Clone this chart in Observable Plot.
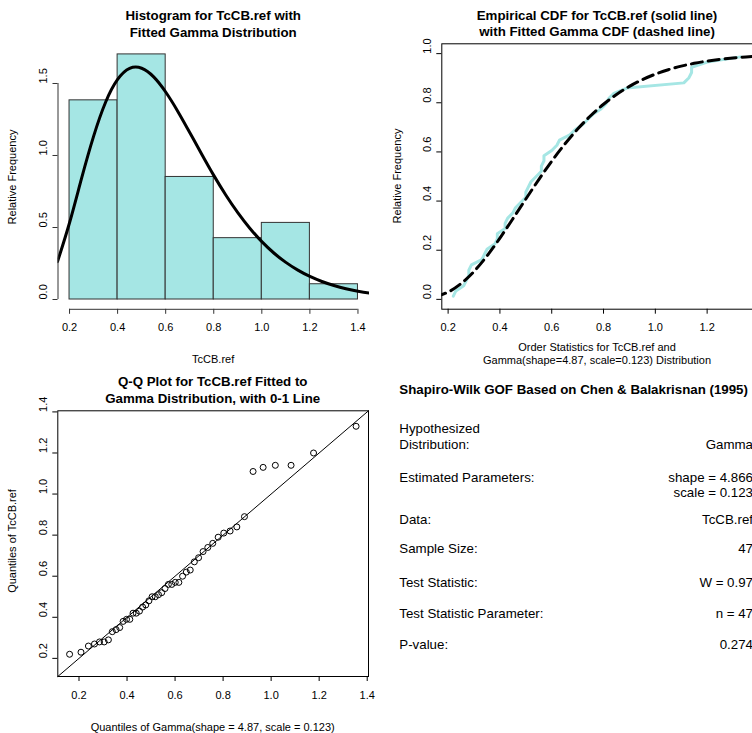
<!DOCTYPE html>
<html><head><meta charset="utf-8">
<script src="https://cdn.jsdelivr.net/npm/d3@7"></script>
<script src="https://cdn.jsdelivr.net/npm/@observablehq/plot@0.6"></script>
<style>
body{margin:0;background:#fff;}
#root{position:relative;width:752px;height:733px;overflow:hidden;background:#fff;font-family:"Liberation Sans",Arial,Helvetica,sans-serif;color:#000;}
.panel{position:absolute;}
.t{position:absolute;white-space:nowrap;line-height:1;}
</style></head>
<body><div id="root"></div>
<script>
// ---------- data ----------
const tccbRef = [0.22,0.23,0.26,0.27,0.28,0.28,0.29,0.33,0.34,0.35,0.38,0.39,0.39,0.42,0.42,0.43,0.45,0.46,0.48,0.50,0.50,0.51,0.52,0.54,0.56,0.56,0.57,0.57,0.60,0.62,0.63,0.67,0.69,0.72,0.74,0.76,0.79,0.81,0.82,0.84,0.89,1.11,1.13,1.14,1.14,1.20,1.33];
const plotPos = [0.0132,0.0344,0.0556,0.0767,0.0979,0.1190,0.1402,0.1614,0.1825,0.2037,0.2249,0.2460,0.2672,0.2884,0.3095,0.3307,0.3519,0.3730,0.3942,0.4153,0.4365,0.4577,0.4788,0.5000,0.5212,0.5423,0.5635,0.5847,0.6058,0.6270,0.6481,0.6693,0.6905,0.7116,0.7328,0.7540,0.7751,0.7963,0.8175,0.8386,0.8598,0.8810,0.9021,0.9233,0.9444,0.9656,0.9868];
const gammaQuantiles = [0.1608,0.2083,0.2392,0.2644,0.2854,0.3048,0.3224,0.3387,0.3544,0.3694,0.3836,0.3979,0.4116,0.4250,0.4384,0.4517,0.4648,0.4780,0.4911,0.5043,0.5175,0.5310,0.5444,0.5581,0.5721,0.5863,0.6008,0.6158,0.6312,0.6468,0.6631,0.6803,0.6979,0.7166,0.7362,0.7569,0.7794,0.8028,0.8292,0.8571,0.8889,0.9248,0.9667,1.0174,1.0830,1.1766,1.3537];

const binLo = [0.2,0.4,0.6,0.8,1.0,1.2];
const binHi = [0.4,0.6,0.8,1.0,1.2,1.4];
const binDensity = [1.383,1.702,0.851,0.426,0.532,0.106];

const gridX = [0.15,0.20,0.25,0.30,0.35,0.40,0.45,0.50,0.55,0.60,0.65,0.70,0.75,0.80,0.85,0.90,0.95,1.00,1.05,1.10,1.15,1.20,1.25,1.30,1.35,1.40,1.45,1.50];
const gammaPdf = [0.263,0.533,0.841,1.133,1.370,1.528,1.605,1.606,1.546,1.441,1.308,1.160,1.009,0.862,0.726,0.603,0.495,0.402,0.323,0.258,0.204,0.160,0.125,0.097,0.0745,0.0571,0.0436,0.0331];
const gammaCdf = [0.0102,0.0298,0.0642,0.1136,0.1765,0.2493,0.3280,0.4085,0.4875,0.5624,0.6312,0.6929,0.7471,0.7939,0.8335,0.8667,0.8941,0.9165,0.9346,0.9490,0.9605,0.9696,0.9767,0.9822,0.9865,0.9897,0.9922,0.9941];

const histXTicks = [0.2,0.4,0.6,0.8,1.0,1.2,1.4];
const histYTicks = [0.0,0.5,1.0,1.5];
const cdfXTicks = [0.2,0.4,0.6,0.8,1.0,1.2];
const cdfYTicks = [0.0,0.2,0.4,0.6,0.8,1.0];
const qqTicks = [0.2,0.4,0.6,0.8,1.0,1.2,1.4];

const gofLabels = [["Hypothesized","Distribution:"],["Estimated Parameters:"],["Data:"],["Sample Size:"],["Test Statistic:"],["Test Statistic Parameter:"],["P-value:"]];
const gofValues = [["","Gamma"],["shape = 4.866","scale = 0.123"],["TcCB.ref"],["47"],["W = 0.97"],["n = 47"],["0.274"]];

// ---------- helpers ----------
const root = document.getElementById("root");
const fmt = d3.format(".1f");
const CYAN = "#a5e6e4";
const FONT = '"Liberation Sans", Arial, Helvetica, sans-serif';
const baseStyle = {fontFamily: FONT, fontSize: "11px", color: "#000", background: "transparent", maxWidth: "none", overflow: "visible"};

function place(el, left, top) {
  const d = document.createElement("div");
  d.className = "panel"; d.style.left = left + "px"; d.style.top = top + "px";
  d.appendChild(el); root.appendChild(d);
}
function label(text, x, y, {size = 11, bold = false, anchor = "middle", rotate = 0} = {}) {
  const d = document.createElement("div");
  d.className = "t"; d.textContent = text;
  d.style.fontSize = size + "px"; d.style.fontWeight = bold ? "bold" : "normal";
  d.style.left = x + "px"; d.style.top = y + "px";
  const tx = anchor === "middle" ? "-50%" : anchor === "end" ? "-100%" : "0";
  d.style.transform = `translate(${tx},-50%)` + (rotate ? ` rotate(${rotate}deg)` : "");
  root.appendChild(d);
}
function yTickText(ticks) {
  return Plot.text(ticks, {y: d => d, text: d => fmt(d), frameAnchor: "left", dx: -14.5, rotate: -90, fontSize: 11});
}

// ---------- panel 1: histogram ----------
const bins = binLo.map((x1, i) => ({x1, x2: binHi[i], y: binDensity[i]}));
const pdf = gridX.map((x, i) => ({x, y: gammaPdf[i]}));
const p1 = Plot.plot({
  width: 376, height: 370, marginLeft: 57.5, marginRight: 7, marginTop: 44.4, marginBottom: 61.2,
  x: {domain: [0.152, 1.448]}, y: {domain: [-0.068, 1.768]},
  style: baseStyle,
  marks: [
    Plot.rectY(bins, {x1: "x1", x2: "x2", y: "y", fill: CYAN, stroke: "#333", strokeWidth: 1, inset: 0}),
    Plot.line(pdf, {x: "x", y: "y", stroke: "#000", strokeWidth: 3, curve: "natural", clip: true}),
    Plot.ruleX([0.152], {y1: 0, y2: 1.5, stroke: "#333"}),
    Plot.ruleY([-0.068], {x1: 0.2, x2: 1.4, stroke: "#333"}),
    Plot.axisX(histXTicks, {tickSize: 5, tickPadding: 9, tickFormat: fmt, stroke: "#333", label: null}),
    Plot.axisY(histYTicks, {tickSize: 5, tickFormat: () => "", stroke: "#333", label: null}),
    yTickText(histYTicks)
  ]
});
place(p1, 0, 0);
label("Histogram for TcCB.ref with", 213.2, 16, {size: 13.3, bold: true});
label("Fitted Gamma Distribution", 213.2, 32.5, {size: 13.3, bold: true});
label("Relative Frequency", 12.2, 176.6, {rotate: -90});
label("TcCB.ref", 213.2, 359);

// ---------- panel 2: ECDF ----------
const ecdf = tccbRef.map((x, i) => ({x, y: plotPos[i]}));
const cdf = gridX.map((x, i) => ({x, y: gammaCdf[i]}));
const p2 = Plot.plot({
  width: 380, height: 370, marginLeft: 65.3, marginRight: 3, marginTop: 43.3, marginBottom: 61.3,
  x: {domain: [0.1756, 1.379]}, y: {domain: [-0.04, 1.04]},
  style: baseStyle,
  marks: [
    Plot.line(ecdf, {x: "x", y: "y", stroke: CYAN, strokeWidth: 3, clip: true}),
    Plot.line(cdf, {x: "x", y: "y", stroke: "#000", strokeWidth: 3, strokeDasharray: "11,6", curve: "natural", clip: true}),
    Plot.frame({stroke: "#000"}),
    Plot.axisX(cdfXTicks, {tickSize: 5, tickPadding: 9, tickFormat: fmt, label: null}),
    Plot.axisY(cdfYTicks, {tickSize: 5, tickFormat: () => "", label: null}),
    yTickText(cdfYTicks)
  ]
});
place(p2, 376, 0);
label("Empirical CDF for TcCB.ref (solid line)", 597, 15.5, {size: 13.3, bold: true});
label("with Fitted Gamma CDF (dashed line)", 597, 32.3, {size: 13.3, bold: true});
label("Relative Frequency", 397, 176, {rotate: -90});
label("Order Statistics for TcCB.ref and", 597, 346.7);
label("Gamma(shape=4.87, scale=0.123) Distribution", 597, 359.5);

// ---------- panel 3: Q-Q ----------
const qq = tccbRef.map((y, i) => ({x: gammaQuantiles[i], y}));
const qqLimits = [0.1117, 1.4054];
const p3 = Plot.plot({
  width: 376, height: 367, marginLeft: 57.3, marginRight: 8, marginTop: 44.3, marginBottom: 57,
  x: {domain: qqLimits}, y: {domain: qqLimits},
  style: baseStyle,
  marks: [
    Plot.line(qqLimits, {x: d => d, y: d => d, stroke: "#000", strokeWidth: 1}),
    Plot.dot(qq, {x: "x", y: "y", r: 3, stroke: "#000", fill: "none", strokeWidth: 1}),
    Plot.frame({stroke: "#000"}),
    Plot.axisX(qqTicks, {tickSize: 5, tickPadding: 10, tickFormat: fmt, label: null}),
    Plot.axisY(qqTicks, {tickSize: 5, tickFormat: () => "", label: null}),
    yTickText(qqTicks)
  ]
});
place(p3, 0, 366);
label("Q-Q Plot for TcCB.ref Fitted to", 212.7, 382, {size: 13.3, bold: true});
label("Gamma Distribution, with 0-1 Line", 212.7, 399, {size: 13.3, bold: true});
label("Quantiles of TcCB.ref", 12.2, 541, {rotate: -90});
label("Quantiles of Gamma(shape = 4.87, scale = 0.123)", 212.7, 726.5);

// ---------- panel 4: GOF text ----------
label("Shapiro-Wilk GOF Based on Chen & Balakrisnan (1995)", 399.3, 390, {size: 13.3, bold: true, anchor: "start"});
const rowY = [[429.3, 445.3], [477.7, 492.7], [520], [549.3], [582.7], [614.3], [645.3]];
gofLabels.forEach((lines, i) => lines.forEach((s, j) => label(s, 399.3, rowY[i][j], {size: 13.3, anchor: "start"})));
gofValues.forEach((lines, i) => lines.forEach((s, j) => {
  if (s) label(s, 753, rowY[i][j], {size: 13.3, anchor: "end"});
}));
</script>
</body></html>
